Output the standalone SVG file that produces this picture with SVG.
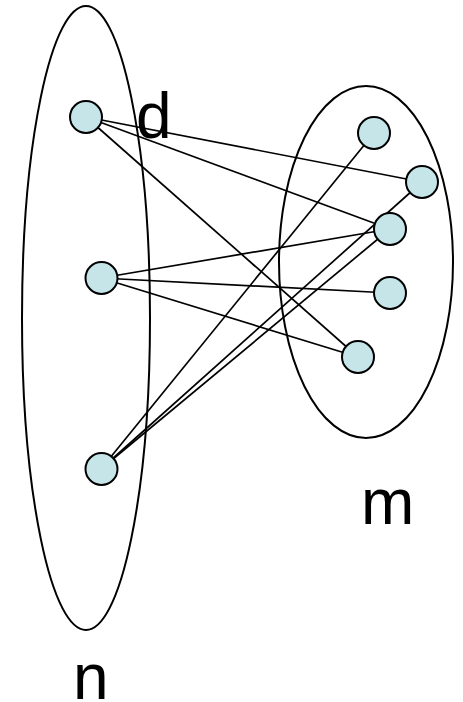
<svg xmlns="http://www.w3.org/2000/svg" width="463" height="702" viewBox="0 0 463 702">
<style>
.set{fill:none;stroke:#000;stroke-width:2}
.e{stroke:#000;stroke-width:1.7}
.n{fill:#C5E5E8;stroke:#000;stroke-width:2}
.lbl{font-family:"Liberation Sans",Arial,sans-serif;font-size:64px;fill:#000}
</style>
<rect width="463" height="702" fill="#fff"/>
<g id="set-n"><ellipse class="set" cx="86" cy="318" rx="64" ry="312"/></g>
<g id="set-m"><ellipse class="set" cx="366" cy="262" rx="87" ry="176"/></g>
<g id="edges">
<line class="e" x1="86" y1="117" x2="422" y2="182"/>
<line class="e" x1="86" y1="117" x2="390" y2="229"/>
<line class="e" x1="86" y1="117" x2="358" y2="357"/>
<line class="e" x1="101" y1="278" x2="390" y2="229"/>
<line class="e" x1="101" y1="278" x2="390" y2="293"/>
<line class="e" x1="101" y1="278" x2="358" y2="357"/>
<line class="e" x1="101" y1="469" x2="374" y2="133"/>
<line class="e" x1="101" y1="469" x2="422" y2="182"/>
<line class="e" x1="101" y1="469" x2="390" y2="229"/>
</g>
<g id="L1"><circle class="n" cx="86" cy="117" r="16"/></g>
<g id="L2"><circle class="n" cx="101.5" cy="278" r="16"/></g>
<g id="L3"><circle class="n" cx="101.5" cy="469" r="16"/></g>
<g id="R1"><circle class="n" cx="374" cy="133" r="16"/></g>
<g id="R2"><circle class="n" cx="422" cy="182" r="16"/></g>
<g id="R3"><circle class="n" cx="390" cy="229" r="16"/></g>
<g id="R4"><circle class="n" cx="390" cy="293" r="16"/></g>
<g id="R5"><circle class="n" cx="358" cy="357" r="16"/></g>
<g id="labels">
<text class="lbl" x="136" y="138">d</text>
<text class="lbl" x="361" y="524">m</text>
<text class="lbl" x="73" y="699">n</text>
</g>
</svg>
